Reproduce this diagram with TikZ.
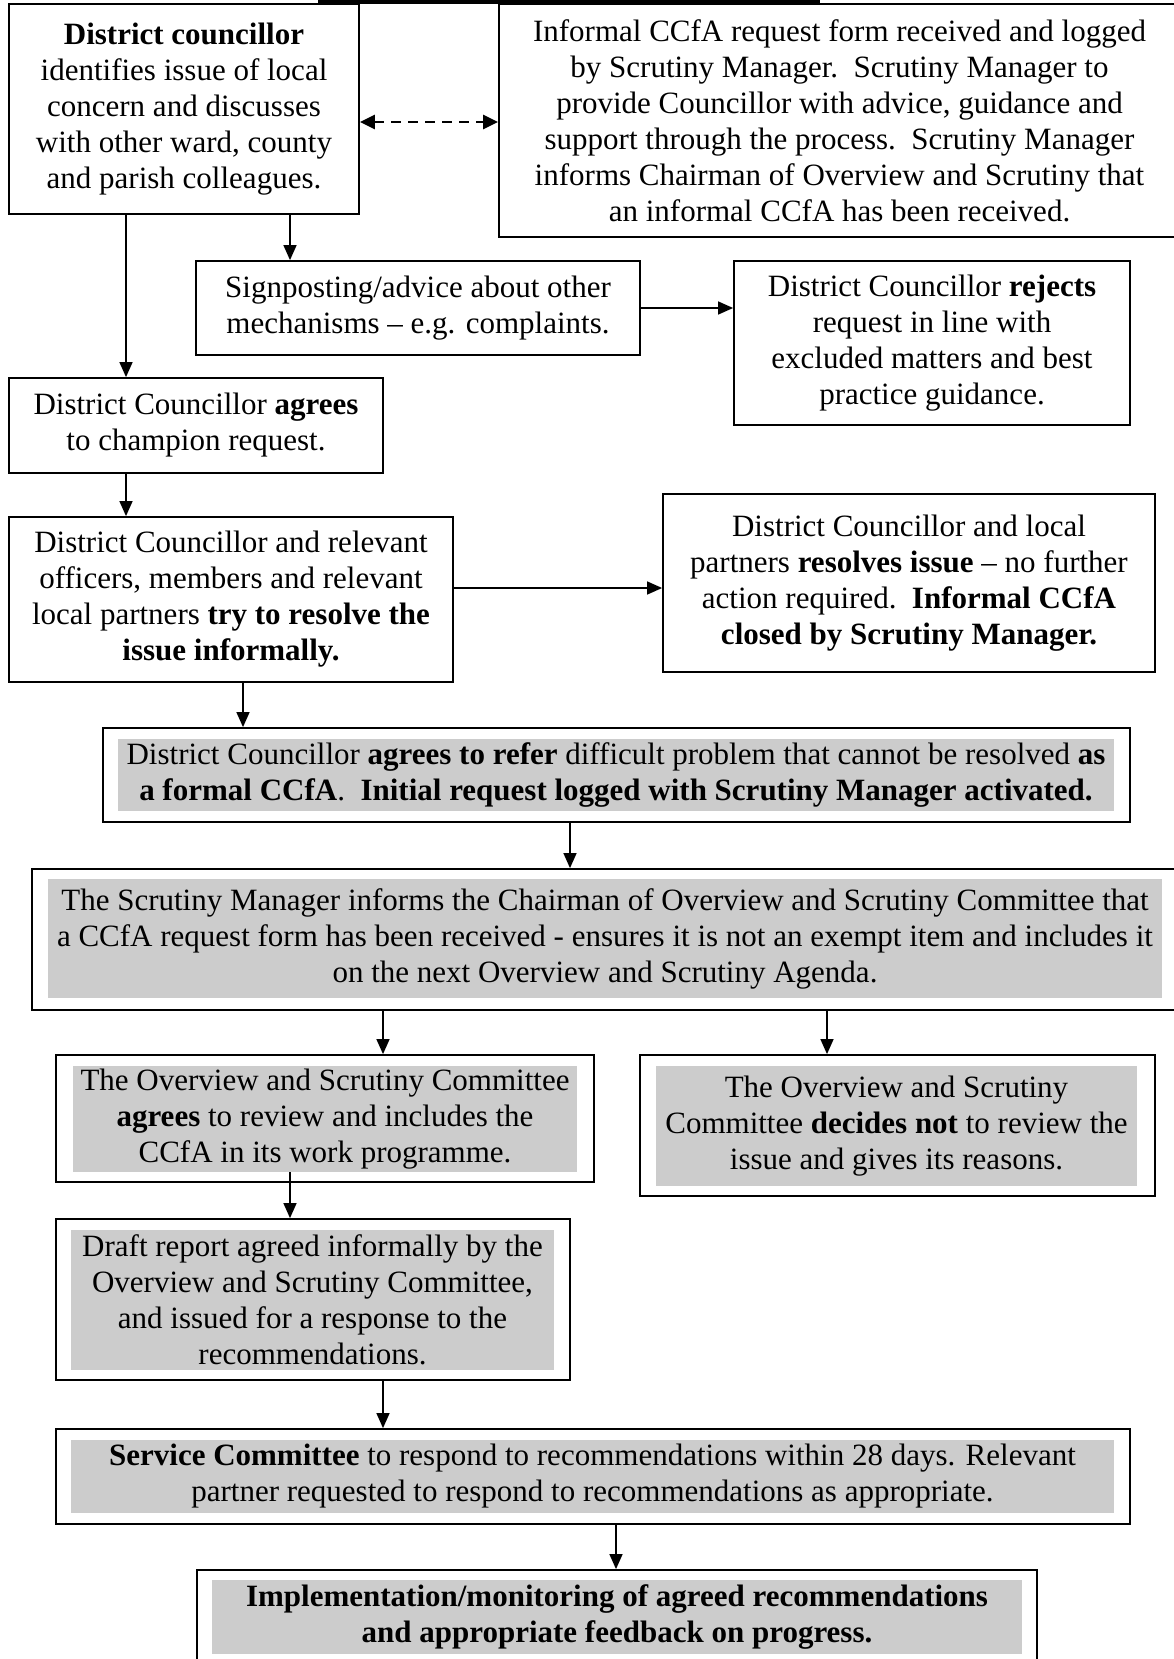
\documentclass[tikz,border=0pt]{standalone}
\usepackage{fontspec}
\setmainfont{Liberation Serif}
\usetikzlibrary{arrows.meta}
\definecolor{boxgrey}{RGB}{204,204,204}
\newcommand\bxfont{\fontsize{31}{36}\selectfont}
\begin{document}
\begin{tikzpicture}[x=1pt,y=-1pt,
  box/.style={draw, line width=1.8pt, inner sep=0pt, align=center, font=\bxfont},
  frame/.style={draw, line width=1.8pt, inner sep=0pt},
  gbox/.style={fill=boxgrey, inner sep=0pt, align=center, font=\bxfont},
  arr/.style={-{Triangle[length=15pt,width=13pt]}, line width=1.4pt},
  darr/.style={{Triangle[length=15pt,width=14pt]}-{Triangle[length=15pt,width=14pt]}, line width=2.6pt, dash pattern=on 10pt off 7pt}]
\useasboundingbox (0,0) rectangle (1174,1659);
\clip (0,0) rectangle (1174,1659);
\fill[black] (318,0) rectangle (820,4);

% helper coordinates for arrow x positions
\coordinate (x126) at (126,0);
\coordinate (x243) at (243,0);
\coordinate (x290) at (290,0);
\coordinate (x383) at (383,0);
\coordinate (x570) at (570,0);
\coordinate (x616) at (616,0);
\coordinate (x827) at (827,0);
\coordinate (y122) at (0,122);
\coordinate (y308) at (0,308);
\coordinate (y588) at (0,588);

\node[box, minimum width=350, minimum height=210] (A) at (184,109)
  {\textbf{District councillor}\\identifies issue of local\\concern and discusses\\with other ward, county\\and parish colleagues.};
\node[box, minimum width=681, minimum height=233] (B) at (839.5,120.5)
  {Informal CCfA request form received and logged\\by Scrutiny Manager.\ \ Scrutiny Manager to\\provide Councillor with advice, guidance and\\support through the process.\ \ Scrutiny Manager\\informs Chairman of Overview and Scrutiny that\\an informal CCfA has been received.};
\node[box, minimum width=444, minimum height=94] (S) at (418,308)
  {Signposting/advice about other\\mechanisms – e.g. complaints.};
\node[box, minimum width=396, minimum height=164] (R) at (932,343)
  {District Councillor \textbf{rejects}\\request in line with\\excluded matters and best\\practice guidance.};
\node[box, minimum width=374, minimum height=95] (G) at (196,425.5)
  {District Councillor \textbf{agrees}\\to champion request.};
\node[box, minimum width=444, minimum height=165] (T) at (231,599.5)
  {District Councillor and relevant\\officers, members and relevant\\local partners \textbf{try to resolve the}\\\textbf{issue informally.}};
\node[box, minimum width=492, minimum height=178] (V) at (909,583)
  {District Councillor and local\\partners \textbf{resolves issue} – no further\\action required.\ \ \textbf{Informal CCfA}\\\textbf{closed by Scrutiny Manager.}};

\node[gbox, minimum width=996, minimum height=72] (Fg) at (616,775)
  {District Councillor \textbf{agrees to refer} difficult problem that cannot be resolved \textbf{as}\\\textbf{a formal CCfA}.\ \ \textbf{Initial request logged with Scrutiny Manager activated.}};
\node[frame, minimum width=1027, minimum height=94] (F) at (616.5,775) {};

\node[gbox, minimum width=1114, minimum height=119] (Ig) at (605,938.5)
  {The Scrutiny Manager informs the Chairman of Overview and Scrutiny Committee that\\a CCfA request form has been received - ensures it is not an exempt item and includes it\\on the next Overview and Scrutiny Agenda.};
\node[frame, minimum width=1144, minimum height=141] (I) at (604,939.5) {};

\node[gbox, minimum width=504, minimum height=106] (Pg) at (325,1119)
  {The Overview and Scrutiny Committee\\\textbf{agrees} to review and includes the\\CCfA in its work programme.};
\node[frame, minimum width=538, minimum height=127] (P) at (325,1118.5) {};

\node[gbox, minimum width=481, minimum height=120] (Dg) at (896.5,1126)
  {The Overview and Scrutiny\\Committee \textbf{decides not} to review the\\issue and gives its reasons.};
\node[frame, minimum width=515, minimum height=141] (D) at (897.5,1125.5) {};

\node[gbox, minimum width=483, minimum height=140] (Rg) at (312.5,1300)
  {Draft report agreed informally by the\\Overview and Scrutiny Committee,\\and issued for a response to the\\recommendations.};
\node[frame, minimum width=514, minimum height=161] (Rp) at (313,1299.5) {};

\node[gbox, minimum width=1043, minimum height=73] (Cg) at (592.5,1476.5)
  {\textbf{Service Committee} to respond to recommendations within 28 days. Relevant\\partner requested to respond to recommendations as appropriate.};
\node[frame, minimum width=1074, minimum height=95] (C) at (593,1476.5) {};

\node[gbox, minimum width=810, minimum height=74] (Mg) at (617,1617)
  {\textbf{Implementation/monitoring of agreed recommendations}\\\textbf{and appropriate feedback on progress.}};
\node[frame, minimum width=840, minimum height=100] (M) at (617,1620) {};

% connectors
\draw[darr] (A.east |- y122) -- (B.west |- y122);
\draw[arr] (A.south -| x290) -- (S.north -| x290);
\draw[arr] (A.south -| x126) -- (G.north -| x126);
\draw[arr] (S.east |- y308) -- (R.west |- y308);
\draw[arr] (G.south -| x126) -- (T.north -| x126);
\draw[arr] (T.east |- y588) -- (V.west |- y588);
\draw[arr] (T.south -| x243) -- (F.north -| x243);
\draw[arr] (F.south -| x570) -- (I.north -| x570);
\draw[arr] (I.south -| x383) -- (P.north -| x383);
\draw[arr] (I.south -| x827) -- (D.north -| x827);
\draw[arr] (Pg.south -| x290) -- (Rp.north -| x290);
\draw[arr] (Rp.south -| x383) -- (C.north -| x383);
\draw[arr] (C.south -| x616) -- (M.north -| x616);
\end{tikzpicture}
\end{document}
